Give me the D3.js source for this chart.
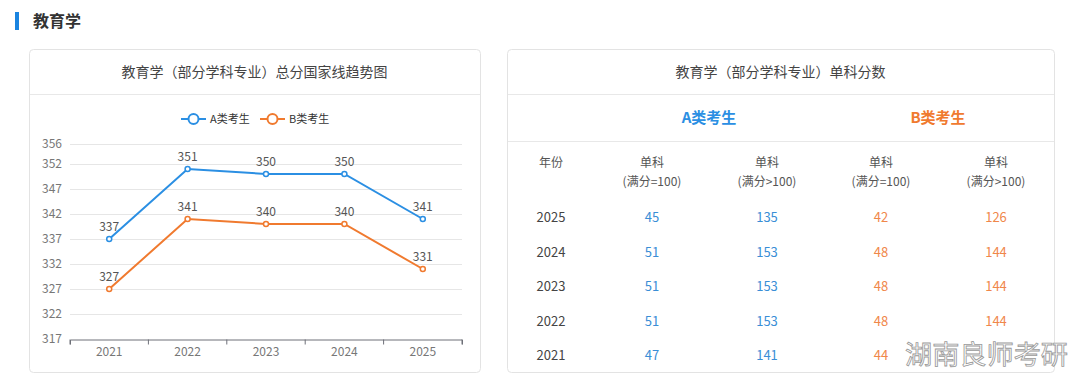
<!DOCTYPE html>
<html>
<head>
<meta charset="utf-8">
<script src="https://cdn.jsdelivr.net/npm/d3@7"></script>
<style>
  body { margin: 0; background: #fff; font-family: "Microsoft YaHei", "Noto Sans CJK SC", sans-serif; }
  svg text { font-family: "Noto Sans CJK SC", "Noto Sans", sans-serif; }
</style>
</head>
<body>
<svg id="chart"></svg>
<script>
// data
const years = ['2021', '2022', '2023', '2024', '2025'];
const scoresA = [337, 351, 350, 350, 341];
const scoresB = [327, 341, 340, 340, 331];
const yTicks = [317, 322, 327, 332, 337, 342, 347, 352, 356];

const tableYears = ['2025', '2024', '2023', '2022', '2021'];
const singleA100 = [45, 51, 51, 51, 47];
const singleAOver = [135, 153, 153, 153, 141];
const singleB100 = [42, 48, 48, 48, 44];
const singleBOver = [126, 144, 144, 144, null]; // 2021 cell hidden under the watermark

const blue = '#2b8fe3';
const orange = '#f07a2f';
const W = 1080, H = 387;

const svg = d3.select('#chart').attr('width', W).attr('height', H);

// section header
svg.append('rect').attr('x', 15).attr('y', 12).attr('width', 4).attr('height', 18).attr('fill', '#1a84e0');
svg.append('text').attr('x', 33).attr('y', 27).text('教育学')
    .attr('font-size', 16).attr('font-weight', 'bold').attr('fill', '#333');

// cards
const card = (x, w, title) => {
    svg.append('rect').attr('x', x + 0.5).attr('y', 49.5).attr('width', w).attr('height', 323)
        .attr('rx', 4).attr('fill', '#fff').attr('stroke', '#e3e3e3');
    svg.append('line').attr('x1', x + 1).attr('x2', x + w).attr('y1', 94.5).attr('y2', 94.5).attr('stroke', '#e8e8e8');
    svg.append('text').attr('x', x + w / 2).attr('y', 77).attr('text-anchor', 'middle')
        .attr('font-size', 14).attr('fill', '#444').text(title);
};
card(29, 451, '教育学（部分学科专业）总分国家线趋势图');
card(507, 547, '教育学（部分学科专业）单科分数');

// line chart
const x = d3.scaleBand().domain(years).range([70, 462]);
const y = d3.scaleLinear().domain([317, 356]).range([339, 144]);

const grid = svg.append('g');
grid.selectAll('line').data(yTicks.slice(1)).join('line')
    .attr('x1', 70).attr('x2', 462)
    .attr('y1', d => Math.round(y(d)) + 0.5).attr('y2', d => Math.round(y(d)) + 0.5)
    .attr('stroke', '#e6e6e6');

const yAxis = svg.append('g').attr('transform', 'translate(70,0)')
    .call(d3.axisLeft(y).tickValues(yTicks).tickSize(0).tickPadding(8));
yAxis.select('.domain').remove();
yAxis.selectAll('text').attr('font-size', 12).attr('fill', '#777');

const xAxis = svg.append('g').attr('transform', 'translate(0,339.5)')
    .call(d3.axisBottom(x).tickSizeOuter(5).tickSizeInner(0).tickPadding(8));
xAxis.select('.domain').attr('stroke', '#6e7079');
xAxis.selectAll('text').attr('font-size', 12).attr('fill', '#777');
// boundary ticks between bands
xAxis.selectAll('.bt').data(d3.range(years.length + 1)).join('line')
    .attr('x1', i => 70 + i * x.step()).attr('x2', i => 70 + i * x.step())
    .attr('y1', 0).attr('y2', 5).attr('stroke', '#6e7079');

const line = d3.line().x((d, i) => x(years[i]) + x.bandwidth() / 2).y(d => y(d));

[[scoresA, blue], [scoresB, orange]].forEach(([vals, col]) => {
    svg.append('path').datum(vals).attr('d', line)
        .attr('fill', 'none').attr('stroke', col).attr('stroke-width', 2);
    svg.selectAll(null).data(vals).join('circle')
        .attr('cx', (d, i) => x(years[i]) + x.bandwidth() / 2).attr('cy', d => y(d))
        .attr('r', 2.5).attr('fill', '#fff').attr('stroke', col).attr('stroke-width', 1.5);
    svg.selectAll(null).data(vals).join('text')
        .attr('x', (d, i) => x(years[i]) + x.bandwidth() / 2).attr('y', d => y(d) - 8)
        .attr('text-anchor', 'middle').attr('font-size', 12).attr('fill', '#555').text(d => d);
});

// legend
const legend = [['A类考生', blue, 181], ['B类考生', orange, 260]];
legend.forEach(([label, col, lx]) => {
    const g = svg.append('g').attr('transform', `translate(${lx},119)`);
    g.append('line').attr('x1', 0).attr('x2', 25).attr('stroke', col).attr('stroke-width', 2);
    g.append('circle').attr('cx', 12.5).attr('r', 5).attr('fill', '#fff').attr('stroke', col).attr('stroke-width', 2);
    g.append('text').attr('x', 29).attr('y', 4).attr('font-size', 11).attr('fill', '#333').text(label);
});

// table
svg.append('line').attr('x1', 508).attr('x2', 1054).attr('y1', 141.5).attr('y2', 141.5).attr('stroke', '#e8e8e8');
svg.append('text').attr('x', 709).attr('y', 123).attr('text-anchor', 'middle')
    .attr('font-size', 15).attr('font-weight', 'bold').attr('fill', blue).text('A类考生');
svg.append('text').attr('x', 938).attr('y', 123).attr('text-anchor', 'middle')
    .attr('font-size', 15).attr('font-weight', 'bold').attr('fill', orange).text('B类考生');

const colX = [551, 652, 767, 881, 996];
const headers = [['年份'], ['单科', '(满分=100)'], ['单科', '(满分>100)'], ['单科', '(满分=100)'], ['单科', '(满分>100)']];
headers.forEach((h, i) => {
    h.forEach((t, j) => {
        svg.append('text').attr('x', colX[i]).attr('y', 167 + j * 19).attr('text-anchor', 'middle')
            .attr('font-size', 12).attr('fill', '#555').text(t);
    });
});

const rowY = d3.scalePoint().domain(tableYears).range([222, 360]);
const cols = [
    [tableYears, '#444'],
    [singleA100, '#3a8ed6'],
    [singleAOver, '#3a8ed6'],
    [singleB100, '#f0874a'],
    [singleBOver, '#f0874a']
];
cols.forEach(([vals, col], i) => {
    const cells = vals.map((v, r) => ({ v, year: tableYears[r] })).filter(c => c.v != null);
    svg.selectAll(null).data(cells).join('text')
        .attr('x', colX[i]).attr('y', c => rowY(c.year))
        .attr('text-anchor', 'middle').attr('font-size', 13).attr('fill', col).text(c => c.v);
});

// watermark
svg.append('text').attr('x', 905).attr('y', 364).text('湖南良师考研')
    .attr('font-size', 26).attr('fill', '#fff').attr('stroke', '#999').attr('stroke-width', 0.8)
    .attr('textLength', 163).attr('lengthAdjust', 'spacingAndGlyphs');
</script>
</body>
</html>
